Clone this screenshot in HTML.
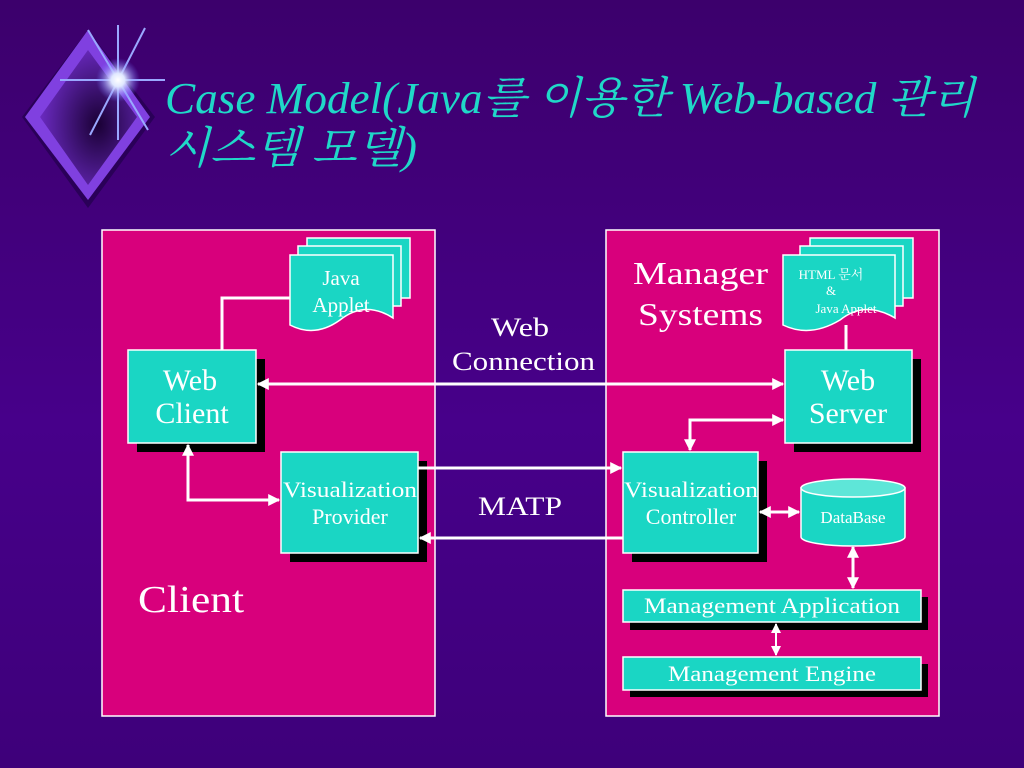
<!DOCTYPE html>
<html><head><meta charset="utf-8"><style>
html,body{margin:0;padding:0;width:1024px;height:768px;overflow:hidden}
body{background:linear-gradient(180deg,#3c006c 0%,#47008a 55%,#3e007a 100%)}
svg{display:block}
text{font-family:"Liberation Serif","Noto Serif CJK SC",serif}
</style></head><body>
<svg width="1024" height="768" viewBox="0 0 1024 768" xmlns="http://www.w3.org/2000/svg">
<defs>
<radialGradient id="dg" cx="0.6" cy="0.55" r="0.6"><stop offset="0" stop-color="#1a0035"/><stop offset="1" stop-color="#6a2ac0"/></radialGradient>
<radialGradient id="sg" cx="0.5" cy="0.5" r="0.5"><stop offset="0" stop-color="#fff"/><stop offset="0.3" stop-color="#e0e8ff"/><stop offset="1" stop-color="#6a6aff" stop-opacity="0"/></radialGradient>
<marker id="ah" viewBox="0 0 10 10" refX="9" refY="5" markerWidth="4" markerHeight="4" orient="auto-start-reverse"><path d="M0,0L10,5L0,10z" fill="#fff"/></marker>
<marker id="ah2" viewBox="0 0 10 10" refX="9" refY="5" markerWidth="5" markerHeight="5" orient="auto-start-reverse"><path d="M0,0L10,5L0,10z" fill="#fff"/></marker>
</defs>
<!-- logo -->
<polygon points="88,30 155,117 88,208 22,117" fill="#2a0058"/>
<polygon points="88,30 150,117 88,200 25,117" fill="#8040e0"/>
<polygon points="88,50 137,117 88,185 40,117" fill="url(#dg)"/>
<g stroke="#9aa8ff" stroke-width="2">
<line x1="118" y1="25" x2="118" y2="140"/><line x1="60" y1="80" x2="165" y2="80"/>
<line x1="88" y1="30" x2="148" y2="130"/><line x1="145" y1="28" x2="90" y2="135"/>
</g>
<circle cx="118" cy="80" r="22" fill="url(#sg)"/>
<!-- title -->
<g font-style="italic" font-size="44" fill="#20d8c8">
<text x="165" y="113" textLength="810" lengthAdjust="spacingAndGlyphs">Case Model(Java를 이용한 Web-based 관리</text>
<text x="165" y="163" textLength="252" lengthAdjust="spacingAndGlyphs">시스템 모델)</text>
</g>
<!-- panels -->
<rect x="102" y="230" width="333" height="486" fill="#d8007c" stroke="#fff" stroke-width="1.5"/>
<rect x="606" y="230" width="333" height="486" fill="#d8007c" stroke="#fff" stroke-width="1.5"/>
<g fill="#fff" font-size="32">
<text x="633" y="284" textLength="135" lengthAdjust="spacingAndGlyphs">Manager</text>
<text x="638" y="325" textLength="125" lengthAdjust="spacingAndGlyphs">Systems</text>
<text x="138" y="612" font-size="38" textLength="106" lengthAdjust="spacingAndGlyphs">Client</text>
<text x="491" y="336" font-size="26" textLength="58" lengthAdjust="spacingAndGlyphs">Web</text>
<text x="452" y="370" font-size="26" textLength="143" lengthAdjust="spacingAndGlyphs">Connection</text>
<text x="478" y="515" font-size="26" textLength="84" lengthAdjust="spacingAndGlyphs">MATP</text>
</g>
<!-- doc stacks -->
<g fill="#1ad6c4" stroke="#fff" stroke-width="1.5">
<rect x="307" y="238" width="103" height="60"/><rect x="298" y="246" width="103" height="60"/>
<path d="M290,255 H393 V318 Q365,300 340,320 Q315,338 290,325 Z"/>
<rect x="810" y="238" width="103" height="60"/><rect x="800" y="246" width="103" height="60"/>
<path d="M783,255 H895 V318 Q865,300 840,320 Q810,338 783,325 Z"/>
</g>
<g fill="#fff" text-anchor="middle">
<text x="341" y="285" font-size="21">Java</text><text x="341" y="312" font-size="21">Applet</text>
<text x="831" y="279" font-size="13">HTML 문서</text><text x="831" y="295" font-size="13">&amp;</text><text x="846" y="313" font-size="13">Java Applet</text>
</g>
<!-- shadows -->
<g fill="#000">
<rect x="137" y="359" width="128" height="93"/><rect x="290" y="461" width="137" height="101"/>
<rect x="794" y="359" width="127" height="93"/><rect x="632" y="461" width="135" height="101"/>
<rect x="630" y="597" width="298" height="33"/><rect x="630" y="664" width="298" height="33"/>
</g>
<!-- boxes -->
<g fill="#1ad6c4" stroke="#fff" stroke-width="1.5">
<rect x="128" y="350" width="128" height="93"/><rect x="281" y="452" width="137" height="101"/>
<rect x="785" y="350" width="127" height="93"/><rect x="623" y="452" width="135" height="101"/>
<rect x="623" y="590" width="298" height="32"/><rect x="623" y="657" width="298" height="33"/>
<path d="M801,488 V537 A52,9 0 0 0 905,537 V488 Z"/>
<ellipse cx="853" cy="488" rx="52" ry="9" fill="#5ee6d8"/>
</g>
<!-- lines -->
<g stroke="#fff" stroke-width="3" fill="none">
<polyline points="222,350 222,298 290,298"/>
<line x1="258" y1="384" x2="783" y2="384" marker-start="url(#ah)" marker-end="url(#ah)"/>
<polyline points="188,445 188,500 279,500" marker-start="url(#ah)" marker-end="url(#ah)"/>
<line x1="418" y1="468" x2="621" y2="468" marker-end="url(#ah)"/>
<line x1="623" y1="538" x2="420" y2="538" marker-end="url(#ah)"/>
<polyline points="783,420 690,420 690,450" marker-start="url(#ah)" marker-end="url(#ah)"/>
<line x1="760" y1="512" x2="799" y2="512" marker-start="url(#ah)" marker-end="url(#ah)"/>
<line x1="853" y1="547" x2="853" y2="588" marker-start="url(#ah)" marker-end="url(#ah)"/>
<line x1="776" y1="624" x2="776" y2="655" stroke-width="2" marker-start="url(#ah2)" marker-end="url(#ah2)"/>
<line x1="846" y1="325" x2="846" y2="350"/>
</g>
<g fill="#fff" text-anchor="middle">
<text x="190" y="390" font-size="30">Web</text><text x="192" y="423" font-size="30">Client</text>
<text x="848" y="390" font-size="30">Web</text><text x="848" y="423" font-size="30">Server</text>
<text x="350" y="497" font-size="22" textLength="134" lengthAdjust="spacingAndGlyphs">Visualization</text><text x="350" y="524" font-size="22">Provider</text>
<text x="691" y="497" font-size="22" textLength="134" lengthAdjust="spacingAndGlyphs">Visualization</text><text x="691" y="524" font-size="22">Controller</text>
<text x="853" y="523" font-size="17">DataBase</text>
<text x="772" y="613" font-size="22" textLength="256" lengthAdjust="spacingAndGlyphs">Management Application</text>
<text x="772" y="681" font-size="22" textLength="208" lengthAdjust="spacingAndGlyphs">Management Engine</text>
</g>
</svg>
</body></html>
